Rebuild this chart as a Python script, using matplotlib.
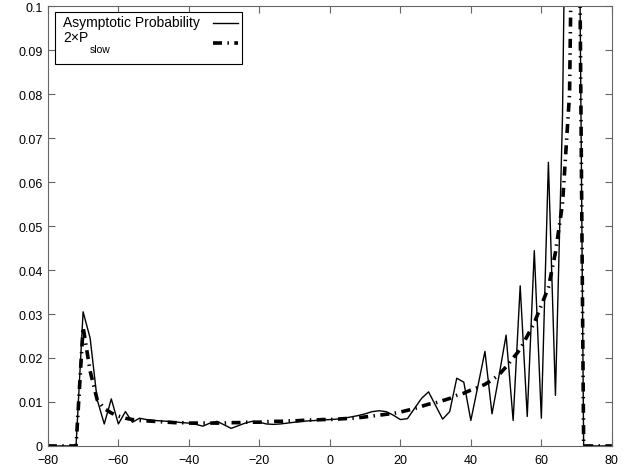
import numpy as np
import matplotlib.pyplot as plt
from matplotlib.patches import Rectangle

plt.rcParams['font.family'] = ['Liberation Sans', 'DejaVu Sans']

# x grid, step 2 from -80 to 80
x = np.arange(-80, 81, 2)

# asymptotic probability (solid)
asym = [0, 0, 0, 0,
        0, 0.0305, 0.0245, 0.0105, 0.005, 0.0107, 0.005, 0.0078, 0.0054, 0.0063,
        0.006, 0.0058, 0.0057, 0.0056, 0.0055, 0.0053, 0.0052, 0.0049, 0.0045, 0.0052,
        0.0056, 0.0048, 0.004, 0.0046, 0.0052, 0.0056, 0.0054, 0.005, 0.0049, 0.005,
        0.0052, 0.0054, 0.0056, 0.0057, 0.0058, 0.0059, 0.006, 0.0061, 0.0063, 0.0066,
        0.0069, 0.0073, 0.0078, 0.008, 0.0078, 0.007, 0.006, 0.0062, 0.0085, 0.0108,
        0.0123, 0.0092, 0.0061, 0.0078, 0.0154, 0.0145, 0.0058, 0.0136, 0.0215, 0.0073,
        0.016, 0.0252, 0.0058, 0.0364, 0.0067, 0.0444, 0.0063, 0.0645, 0.0115, 0.075,
        0.2, 0.2, 0,
        0, 0, 0, 0]

# 2 x P_slow (dash-dot)
pslow = [0, 0, 0, 0,
         0, 0.027, 0.017, 0.0105, 0.0085, 0.0075, 0.0068, 0.0063, 0.006, 0.0058,
         0.0057, 0.0056, 0.0055, 0.0054, 0.0053, 0.0053, 0.0052, 0.0052, 0.0052, 0.0052,
         0.0052, 0.0052, 0.0053, 0.0053, 0.0054, 0.0054, 0.0054, 0.0055, 0.0056, 0.0056,
         0.0057, 0.0057, 0.0058, 0.0059, 0.0059, 0.006, 0.006, 0.0061, 0.0062, 0.0063,
         0.0064, 0.0066, 0.0068, 0.007, 0.0072, 0.0074, 0.0077, 0.0081, 0.0085, 0.009,
         0.0095, 0.0098, 0.0103, 0.0108, 0.0115, 0.012, 0.0127, 0.0133, 0.014, 0.015,
         0.0162, 0.018, 0.02, 0.022, 0.025, 0.028, 0.032, 0.036, 0.044, 0.055,
         0.08, 0.2, 0,
         0, 0, 0, 0]

dashdot = (0, (2.5, 1.5, 0.4, 1.5))

fig = plt.figure(figsize=(6.38, 4.77), dpi=100)
ax = fig.add_axes([0.075, 0.063, 0.884, 0.922])

ax.plot(x, asym, 'k-', lw=1.0)
ax.plot(x, pslow, color='k', lw=2.6, linestyle=dashdot)

ax.set_xlim(-80, 80)
ax.set_ylim(0, 0.1)
ax.set_xticks(np.arange(-80, 81, 20))
ax.set_yticks(np.arange(0, 0.101, 0.01))
ax.set_yticklabels(['0', '0.01', '0.02', '0.03', '0.04', '0.05',
                    '0.06', '0.07', '0.08', '0.09', '0.1'])
ax.tick_params(direction='in', top=True, right=True, labelsize=9,
               length=5, color='0.4')
ax.tick_params(axis='x', pad=6)
for s in ax.spines.values():
    s.set_color('0.4')

# legend drawn by hand, matlab style: labels left, samples right
tr = ax.transAxes
ax.add_patch(Rectangle((0.0124, 0.868), 0.332, 0.118, transform=tr,
                       facecolor='white', edgecolor='k', lw=0.8, zorder=5))
ax.text(0.0266, 0.964, 'Asymptotic Probability', transform=tr,
        fontsize=10, va='center', ha='left', zorder=6)
ax.text(0.0266, 0.931, '2\u00d7P', transform=tr,
        fontsize=10, va='center', ha='left', zorder=6)
ax.text(0.074, 0.903, 'slow', transform=tr,
        fontsize=7.5, va='center', ha='left', zorder=6)
ax.plot([0.293, 0.338], [0.962, 0.962], 'k-', lw=1.0, transform=tr, zorder=6)
ax.plot([0.293, 0.338], [0.917, 0.917], color='k', lw=2.6,
        linestyle=dashdot, transform=tr, zorder=6)

plt.savefig('out.png')
